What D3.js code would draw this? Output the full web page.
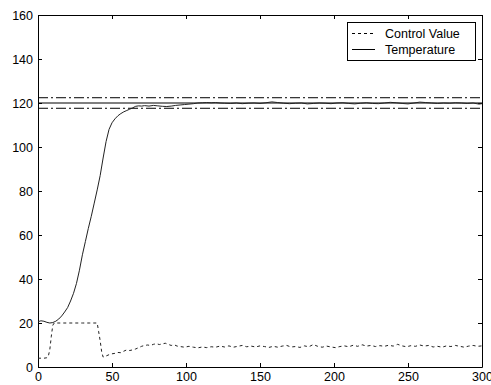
<!DOCTYPE html>
<html>
<head>
<meta charset="utf-8">
<script src="https://cdn.jsdelivr.net/npm/d3@7"></script>
<style>
  body { margin: 0; background: #fff; }
  svg { display: block; }
  text { font-family: "Liberation Sans", Arial, sans-serif; }
</style>
</head>
<body>
<svg id="chart" width="491" height="385"></svg>
<script>
// data
const xTicks = [0, 50, 100, 150, 200, 250, 300];
const yTicks = [0, 20, 40, 60, 80, 100, 120, 140, 160];
const setpoint = 120;
const bandLines = [122.4, 117.6];
const legendLabels = ["Control Value", "Temperature"];

const temperature = [
  [0,20.6],[2,21.0],[4,20.8],[6,20.3],[8,20.0],[10,20.2],[12,20.8],[14,21.8],[16,23.2],[18,25.0],
  [20,27.0],[22,30.0],[24,33.5],[26,38.0],[28,44.0],[30,51.0],[32,57.0],[34,63.0],[36,68.5],[38,74.5],
  [40,80.5],[42,87.0],[44,95.0],[46,102.5],[48,108.0],[50,111.0],[52,112.8],[54,114.2],[56,115.2],[58,116.0],
  [60,116.6],[62,117.2],[64,117.8],[66,118.5],[68,118.7],[70,118.6],[72,118.8],[75,118.6],[78,118.9],[81,118.7],
  [84,118.5],[87,118.4],[90,118.6],[93,118.9],[96,119.1],[99,119.3],[102,119.5],[105,119.7],[108,120.0],[111,120.1],
  [114,120.2],[117,120.1],[120,120.2],[123,120.0],[126,119.9],[130,119.8],[134,120.0],[138,119.7],[142,119.9],[146,120.0],
  [150,119.8],[154,120.1],[158,120.5],[162,120.2],[166,119.9],[170,119.7],[174,119.9],[178,120.0],[182,119.6],[186,119.8],
  [190,120.0],[194,119.9],[198,119.7],[202,120.0],[206,120.1],[210,119.8],[214,119.6],[218,119.9],[222,120.1],[226,119.8],
  [230,119.7],[234,120.0],[238,120.3],[242,120.1],[246,119.8],[250,119.6],[254,120.0],[258,120.4],[262,120.2],[266,120.0],
  [270,119.8],[274,120.0],[278,119.9],[282,120.1],[286,120.0],[290,119.8],[294,120.0],[298,119.5],[300,119.7]
];

const controlValue = [
  [0,4.0],[2,4.0],[4,4.0],[6,4.2],[7,5.0],[8,8.0],[9,14.0],[10,19.0],[11,20.0],[15,20.0],
  [20,20.0],[25,20.0],[30,20.0],[35,20.0],[40,20.0],[41,16.0],[42,12.0],[43,7.0],[44,4.5],[46,5.0],
  [48,5.6],[50,6.0],[52,6.2],[54,6.6],[56,6.5],[58,7.2],[60,7.8],[62,7.5],[64,7.8],[66,8.2],
  [68,8.8],[70,9.4],[72,9.8],[74,10.0],[76,9.8],[78,10.3],[80,10.6],[82,10.2],[84,10.5],[86,10.8],
  [88,10.3],[90,9.8],[92,10.1],[94,9.5],[96,9.3],[99,9.0],[102,9.4],[105,9.0],[108,8.7],[111,9.1],
  [114,8.8],[117,9.2],[120,9.0],[123,9.5],[126,9.1],[129,9.6],[132,9.0],[135,9.4],[138,9.8],[141,9.2],
  [144,9.5],[147,9.1],[150,9.6],[153,9.3],[156,8.9],[159,9.4],[162,9.0],[165,9.5],[168,9.8],[171,9.1],
  [174,9.3],[177,8.9],[180,9.6],[183,9.2],[186,10.2],[189,9.4],[192,9.0],[195,9.5],[198,9.1],[201,8.8],
  [204,9.3],[207,9.6],[210,9.2],[213,9.9],[216,9.4],[219,10.1],[222,9.5],[225,9.8],[228,9.3],[231,9.7],
  [234,9.4],[237,9.9],[240,9.5],[243,10.3],[246,9.6],[249,9.2],[252,9.7],[255,9.4],[258,10.0],[261,9.5],
  [264,9.8],[267,9.1],[270,9.4],[273,9.0],[276,9.6],[279,9.3],[282,9.8],[285,9.4],[288,9.0],[291,9.5],
  [294,9.8],[297,9.4],[300,9.6]
];

const svg = d3.select("#chart");
const width = +svg.attr("width");
const height = +svg.attr("height");

// plot box
const plotLeft = 38, plotRight = 482, plotTop = 15, plotBottom = 367;

const x = d3.scaleLinear().domain([0, 300]).range([plotLeft, plotRight]);
const y = d3.scaleLinear().domain([0, 160]).range([plotBottom, plotTop]);

svg.append("rect")
  .attr("width", width).attr("height", height)
  .attr("fill", "#fff");

// axes (inward ticks, box on)
const fontSize = "12.5px";

svg.append("g")
  .attr("transform", `translate(0,${plotBottom})`)
  .call(d3.axisBottom(x).tickValues(xTicks).tickSizeInner(-4).tickSizeOuter(0).tickPadding(5))
  .call(g => g.selectAll("text").style("font-size", fontSize).attr("fill", "#000"));

svg.append("g")
  .attr("transform", `translate(${plotLeft},0)`)
  .call(d3.axisLeft(y).tickValues(yTicks).tickSizeInner(-4).tickSizeOuter(0).tickPadding(5))
  .call(g => g.selectAll("text").style("font-size", fontSize).attr("fill", "#000"));

svg.append("g")
  .attr("transform", `translate(0,${plotTop})`)
  .call(d3.axisTop(x).tickValues(xTicks).tickSizeInner(-4).tickSizeOuter(0).tickFormat(() => ""));

svg.append("g")
  .attr("transform", `translate(${plotRight},0)`)
  .call(d3.axisRight(y).tickValues(yTicks).tickSizeInner(-4).tickSizeOuter(0).tickFormat(() => ""));

svg.selectAll(".domain").attr("stroke", "#000");
svg.selectAll(".tick line").attr("stroke", "#000");

// setpoint and band
svg.append("line")
  .attr("x1", x(0)).attr("x2", x(300))
  .attr("y1", y(setpoint)).attr("y2", y(setpoint))
  .attr("stroke", "#000").attr("stroke-width", 1.2);

svg.selectAll(".band")
  .data(bandLines)
  .enter()
  .append("line")
    .attr("x1", x(0)).attr("x2", x(300))
    .attr("y1", d => y(d)).attr("y2", d => y(d))
    .attr("stroke", "#000")
    .attr("stroke-dasharray", "10,3,2,3");

// curves
const line = d3.line()
  .x(d => x(d[0]))
  .y(d => y(d[1]));

svg.append("path")
  .datum(temperature)
  .attr("d", line)
  .attr("fill", "none")
  .attr("stroke", "#222");

svg.append("path")
  .datum(controlValue)
  .attr("d", line)
  .attr("fill", "none")
  .attr("stroke", "#222")
  .attr("stroke-dasharray", "3,3");

// legend
const lg = svg.append("g");
lg.append("rect")
  .attr("x", 347.5).attr("y", 22.5)
  .attr("width", 128).attr("height", 38)
  .attr("fill", "#fff").attr("stroke", "#000");

legendLabels.forEach((label, i) => {
  const ly = 33.5 + i * 16;
  lg.append("line")
    .attr("x1", 352).attr("x2", 375)
    .attr("y1", ly).attr("y2", ly)
    .attr("stroke", "#000")
    .attr("stroke-dasharray", i === 0 ? "3,3" : null);
  lg.append("text")
    .attr("x", 385).attr("y", ly)
    .attr("dy", "0.35em")
    .style("font-size", fontSize)
    .text(label);
});
</script>
</body>
</html>
